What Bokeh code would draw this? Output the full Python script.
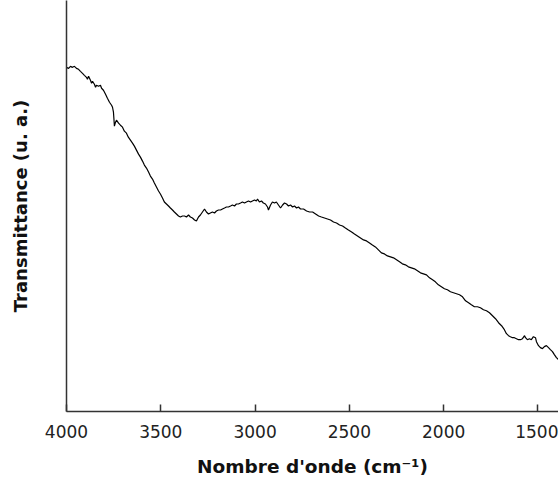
from bokeh.plotting import figure
from bokeh.models import Range1d, FixedTicker
from bokeh.embed import file_html
from bokeh.resources import INLINE

# Wavenumber (cm-1) and transmittance (arbitrary units)
wavenumber = [4000, 3989, 3979, 3968, 3958, 3947, 3936, 3926, 3915, 3905, 3894, 3889, 3883, 3873, 3867,
              3862, 3852, 3846, 3841, 3830, 3820, 3814, 3804, 3793, 3783, 3772, 3761, 3756, 3751, 3748,
              3746, 3740, 3735, 3724, 3714, 3703, 3693, 3682, 3672, 3661, 3650, 3640, 3629, 3618, 3608,
              3597, 3587, 3576, 3565, 3555, 3544, 3534, 3523, 3512, 3502, 3491, 3481, 3470, 3459, 3449,
              3438, 3428, 3417, 3406, 3396, 3385, 3374, 3364, 3353, 3343, 3332, 3321, 3311, 3300, 3290,
              3279, 3268, 3258, 3247, 3237, 3226, 3215, 3205, 3194, 3183, 3173, 3162, 3152, 3141, 3130,
              3120, 3109, 3099, 3088, 3077, 3067, 3056, 3046, 3035, 3024, 3014, 3003, 2993, 2987, 2977,
              2966, 2956, 2945, 2934, 2929, 2918, 2908, 2897, 2887, 2876, 2865, 2854, 2844, 2833, 2823,
              2812, 2801, 2791, 2780, 2770, 2759, 2743, 2727, 2711, 2695, 2679, 2663, 2648, 2632, 2616,
              2600, 2584, 2568, 2552, 2536, 2521, 2505, 2488, 2473, 2457, 2441, 2425, 2409, 2393, 2378,
              2362, 2346, 2330, 2314, 2298, 2282, 2266, 2250, 2234, 2219, 2203, 2187, 2171, 2155, 2139,
              2123, 2107, 2091, 2075, 2059, 2044, 2028, 2012, 1996, 1980, 1964, 1948, 1932, 1916, 1900,
              1884, 1868, 1853, 1837, 1821, 1805, 1789, 1773, 1757, 1741, 1725, 1709, 1693, 1678, 1667,
              1656, 1646, 1635, 1625, 1614, 1603, 1593, 1582, 1571, 1566, 1556, 1545, 1535, 1524, 1513,
              1508, 1497, 1487, 1476, 1466, 1455, 1444, 1434, 1423, 1413, 1402, 1391]
transmittance = [345, 344, 346, 345, 346, 344, 343, 341, 339, 337, 335, 333, 336, 332, 329,
                 331, 328, 325, 327, 326, 327, 324, 322, 318, 314, 310, 307, 305, 300, 292,
                 286, 290, 292, 289, 287, 285, 281, 279, 275, 272, 269, 266, 262, 258, 255,
                 251, 247, 244, 240, 236, 233, 229, 225, 221, 218, 214, 210, 208, 206, 204,
                 202, 200, 198, 196, 195, 196, 196, 195, 197, 195, 194, 192, 191, 195, 197,
                 200, 203, 200, 198, 199, 200, 199, 201, 202, 202, 203, 204, 205, 205, 206,
                 207, 206, 208, 208, 209, 210, 209, 210, 211, 210, 211, 212, 211, 213, 210,
                 211, 209, 208, 205, 202, 207, 210, 209, 210, 207, 204, 207, 209, 208, 206,
                 207, 205, 206, 204, 205, 203, 203, 201, 200, 200, 198, 196, 195, 194, 193,
                 192, 190, 189, 187, 186, 184, 182, 180, 178, 176, 174, 172, 171, 169, 167,
                 165, 162, 159, 158, 156, 155, 154, 152, 150, 148, 147, 145, 144, 143, 141,
                 139, 138, 137, 134, 132, 130, 127, 125, 123, 122, 120, 119, 118, 117, 115,
                 111, 109, 107, 105, 105, 104, 102, 101, 99, 96, 93, 89, 86, 82, 78,
                 76, 75, 74, 74, 73, 72, 72, 73, 76, 74, 72, 73, 72, 75, 74,
                 70, 66, 64, 63, 65, 66, 64, 62, 60, 57, 54, 52]

x_ticks = [4000, 3500, 3000, 2500, 2000, 1500]
x_label = "Nombre d'onde (cm\u207b\u00b9)"
y_label = "Transmittance (u. a.)"

p = figure(width=558, height=479, output_backend="svg", toolbar_location=None,
           x_range=Range1d(4000, 1391), y_range=Range1d(0, 412),
           min_border_left=66, min_border_right=0, min_border_top=0, min_border_bottom=67)
p.outline_line_color = None
p.xgrid.visible = False
p.ygrid.visible = False
p.background_fill_color = "white"
p.border_fill_color = "white"

p.line(wavenumber, transmittance, line_color="black", line_width=1.2)

xa = p.xaxis[0]
xa.ticker = FixedTicker(ticks=x_ticks, minor_ticks=[])
xa.major_tick_in = 7
xa.major_tick_out = 0
xa.minor_tick_line_color = None
xa.axis_line_color = "#333333"
xa.axis_line_width = 1.5
xa.major_tick_line_color = "#333333"
xa.major_tick_line_width = 1.5
xa.major_label_text_font = "DejaVu Sans"
xa.major_label_text_font_size = "17px"
xa.major_label_text_color = "#222222"
xa.major_label_standoff = 13
xa.axis_label = x_label
xa.axis_label_text_font = "DejaVu Sans"
xa.axis_label_text_font_style = "bold"
xa.axis_label_text_font_size = "18.5px"
xa.axis_label_text_color = "#111111"
xa.axis_label_standoff = 15

ya = p.yaxis[0]
ya.ticker = FixedTicker(ticks=[], minor_ticks=[])
ya.major_tick_in = 0
ya.major_tick_out = 0
ya.minor_tick_line_color = None
ya.axis_line_color = "#333333"
ya.axis_line_width = 1.5
ya.axis_label = y_label
ya.axis_label_text_font = "DejaVu Sans"
ya.axis_label_text_font_style = "bold"
ya.axis_label_text_font_size = "18px"
ya.axis_label_text_color = "#111111"
ya.axis_label_standoff = 36

open("out.html", "w").write(file_html(p, INLINE))
